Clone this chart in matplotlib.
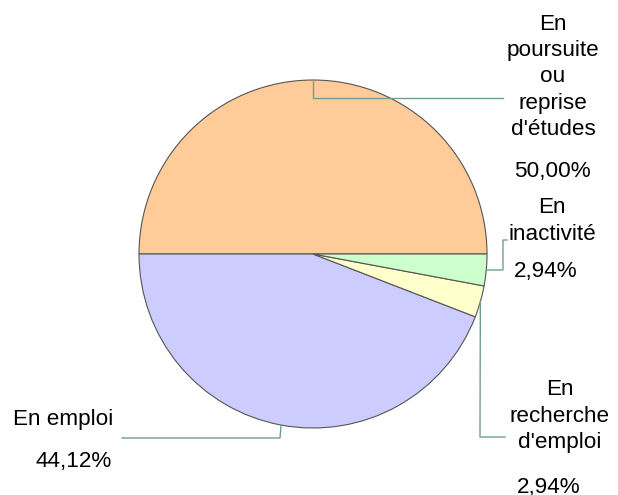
import numpy as np
import matplotlib
matplotlib.use('Agg')
from matplotlib import pyplot as plt

# slices, counterclockwise from 3 o'clock
labels = ["En\npoursuite\nou\nreprise\nd'études", "En emploi", "En\nrecherche\nd'emploi", "En\ninactivité"]
values = [50.00, 44.12, 2.94, 2.94]
colors = ['#ffcc99', '#ccccff', '#ffffcc', '#ccffcc']

W, H = 618, 495
plt.rcParams['font.family'] = ['Liberation Sans', 'DejaVu Sans']

fig = plt.figure(figsize=(W / 100, H / 100), dpi=100)
ax = fig.add_axes([0, 0, 1, 1])

cx, cy, r = 313, H - 254, 174
wedges, _ = ax.pie(values, colors=colors, startangle=0, counterclock=True,
                   center=(cx, cy), radius=r, frame=True,
                   wedgeprops=dict(edgecolor='#555555', linewidth=0.8))
ax.set_xlim(0, W)
ax.set_ylim(0, H)
ax.axis('off')

# label layout (pixel coords, y from top): text pos, pct pos, alignment, elbow path
layout = [
    dict(txt=(553, 77), pct=(552, 172), ha='center', path=[(313, 98), (503, 98)]),
    dict(txt=(113, 420), pct=(112, 461), ha='right', path=[(280, 438), (122, 438)]),
    dict(txt=(560, 416), pct=(549, 487), ha='center', path=[(480, 437), (505, 437)]),
    dict(txt=(552, 221), pct=(546, 272), ha='center', path=[(503, 270), (503, 240), (507, 240)]),
]

line_col = '#6f9f8f'
for w, lab, v, lay in zip(wedges, labels, values, layout):
    mid = np.deg2rad((w.theta1 + w.theta2) / 2)
    px, py = cx + r * np.cos(mid), cy + r * np.sin(mid)
    xs = [px] + [p[0] for p in lay['path']]
    ys = [py] + [H - p[1] for p in lay['path']]
    ax.plot(xs, ys, color=line_col, linewidth=1)
    ax.text(lay['txt'][0], H - lay['txt'][1], lab, ha=lay['ha'], va='center',
            multialignment='center', fontsize=16.2, linespacing=1.33)
    pct = f"{v:.2f}".replace('.', ',') + '%'
    ax.text(lay['pct'][0], H - lay['pct'][1], pct, ha=lay['ha'], va='center',
            fontsize=16.2)

fig.savefig('out.png', dpi=100)
